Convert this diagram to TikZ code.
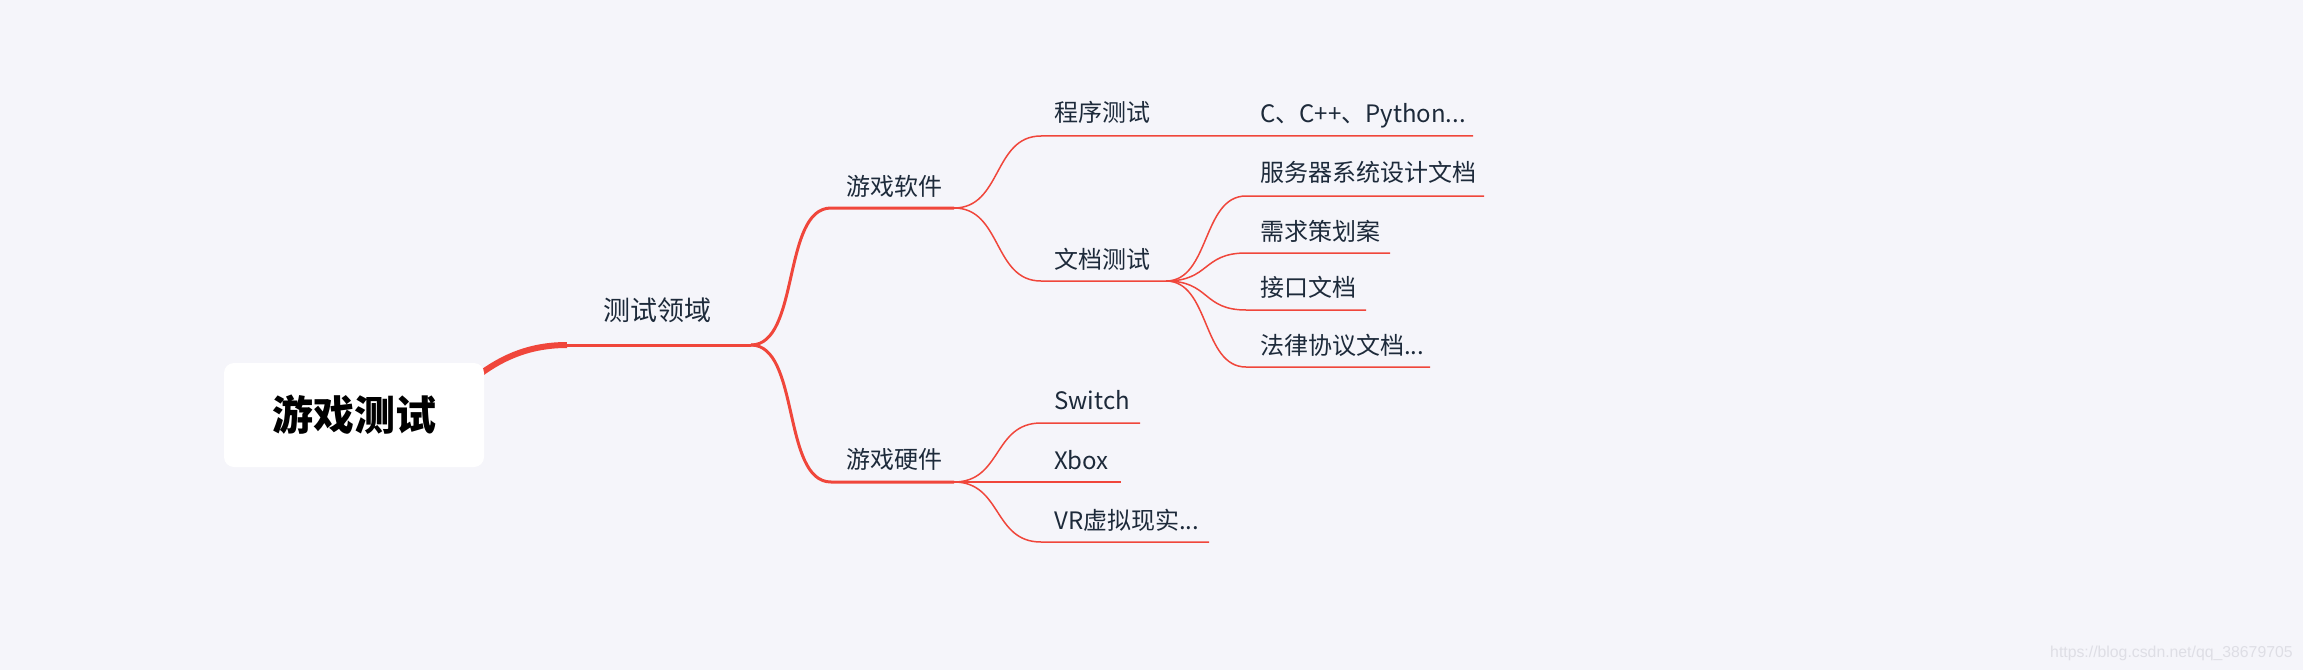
\documentclass[tikz,border=0pt]{standalone}
\usepackage{fontspec}
\newfontfamily\cjk{Noto Sans CJK SC}
\newfontfamily\wmfont{Liberation Sans}
\definecolor{mmred}{HTML}{F0463B}
\definecolor{mmtext}{HTML}{1D2A3A}
\definecolor{mmbg}{HTML}{F5F5FA}
\definecolor{mmwm}{HTML}{DEDEE5}
\tikzset{
  lab/.style={anchor=base west, inner sep=0pt, text=mmtext, font=\cjk\fontsize{24bp}{28bp}\selectfont},
  labone/.style={lab, font=\cjk\fontsize{27bp}{32bp}\selectfont},
  rootbox/.style={fill=white, rounded corners=10bp, minimum width=260bp, minimum height=104bp, inner sep=0pt, text=black, font=\cjk\bfseries\fontsize{41bp}{48bp}\selectfont},
  mainline/.style={draw=mmred, line width=3bp},
  thinline/.style={draw=mmred, line width=1.5bp},
}
\begin{document}
\begin{tikzpicture}[x=1bp,y=-1bp]
\fill[mmbg] (0,0) rectangle (2303,670);
\useasboundingbox (0,0) rectangle (2303,670);

% coordinates
\coordinate (r0) at (470,382);
\coordinate (r1) at (567,345);
\coordinate (b1) at (751,345);
\coordinate (s0) at (831,208);
\coordinate (s1) at (954,208);
\coordinate (h0) at (831,482);
\coordinate (h1) at (954,482);
\coordinate (p0) at (1041,136);
\coordinate (p1) at (1473,136);
\coordinate (d0) at (1041,281);
\coordinate (d1) at (1166,281);
\coordinate (l1a) at (1246,196);
\coordinate (l1b) at (1484,196);
\coordinate (l2a) at (1246,253);
\coordinate (l2b) at (1390,253);
\coordinate (l3a) at (1246,310);
\coordinate (l3b) at (1366,310);
\coordinate (l4a) at (1246,367);
\coordinate (l4b) at (1430,367);
\coordinate (w0) at (1041,423);
\coordinate (w1) at (1140,423);
\coordinate (x1) at (1121,482);
\coordinate (v0) at (1041,542);
\coordinate (v1) at (1209,542);

% root connector
\draw[draw=mmred, line width=6bp] (r0) .. controls (500,357) and (530,345) .. (r1);
\draw[mainline] (r1) -- (b1);

% level 1 branches
\draw[mainline] (b1) .. controls (800,345) and (782,208) .. (s0) -- (s1);
\draw[mainline] (b1) .. controls (800,345) and (782,482) .. (h0) -- (h1);

% game software
\draw[thinline] (s1) .. controls (1002,208) and (993,136) .. (p0) -- (p1);
\draw[thinline] (s1) .. controls (1002,208) and (993,281) .. (d0) -- (d1);

% document test leaves
\draw[thinline] (d1) .. controls (1210,281) and (1202,196) .. (l1a) -- (l1b);
\draw[thinline] (d1) .. controls (1210,281) and (1202,253) .. (l2a) -- (l2b);
\draw[thinline] (d1) .. controls (1210,281) and (1202,310) .. (l3a) -- (l3b);
\draw[thinline] (d1) .. controls (1210,281) and (1202,367) .. (l4a) -- (l4b);

% game hardware
\draw[thinline] (h1) .. controls (1002,482) and (993,423) .. (w0) -- (w1);
\draw[thinline] (h1) -- (x1);
\draw[thinline] (h1) .. controls (1002,482) and (993,542) .. (v0) -- (v1);

% root
\node[rootbox] (root) at (354,415) {游戏测试};

% labels
\node[labone] (area) at (603,320) {测试领域};
\node[lab] (soft) at (846,195) {游戏软件};
\node[lab] (hard) at (846,468) {游戏硬件};
\node[lab] (prog) at (1054,122) {程序测试};
\node[lab] (doc) at (1054,268) {文档测试};
\node[lab] (lang) at (1260,123) {C、C++、Python...};
\node[lab] (srv) at (1260,181) {服务器系统设计文档};
\node[lab] (req) at (1260,240) {需求策划案};
\node[lab] (api) at (1260,296) {接口文档};
\node[lab] (law) at (1260,354) {法律协议文档...};
\node[lab] (switch) at (1054,409) {Switch};
\node[lab] (xbox) at (1054,469) {Xbox};
\node[lab] (vr) at (1054,529) {VR虚拟现实...};

% watermark
\node[anchor=base west, inner sep=0pt, text=mmwm, font=\wmfont\fontsize{15.8bp}{18bp}\selectfont] (wm) at (2050,657) {https://blog.csdn.net/qq\_38679705};
\end{tikzpicture}
\end{document}
